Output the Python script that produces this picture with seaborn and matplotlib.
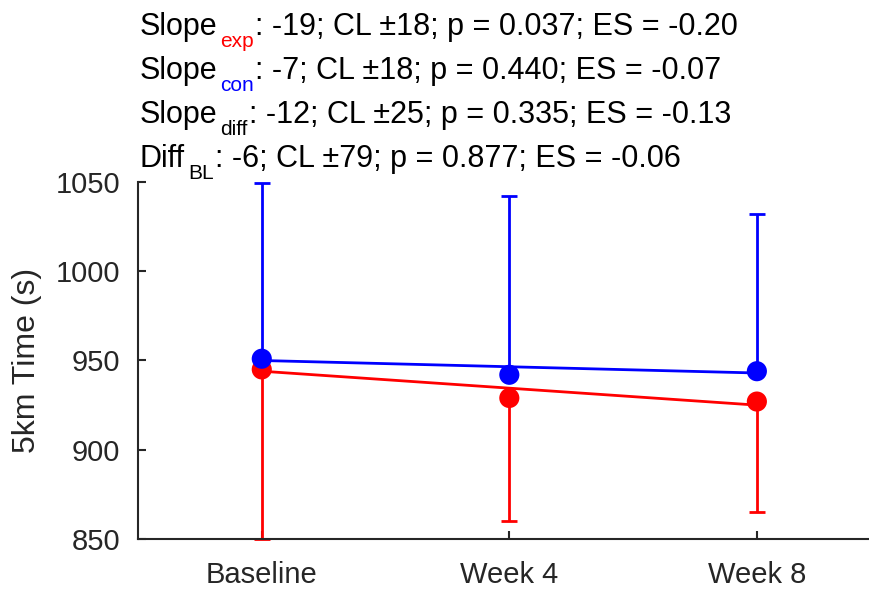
import matplotlib
matplotlib.use("Agg")
import matplotlib.pyplot as plt
import seaborn as sns
import pandas as pd
import numpy as np

# ---- data ----
weeks = ["Baseline", "Week 4", "Week 8"]
exp_mean = [945, 929, 927]
exp_lower = [850, 860, 865]
con_mean = [951, 942, 944]
con_upper = [1049.5, 1042, 1032]
fit_weeks = ["Baseline", "Week 8"]
exp_fit = [944, 925]
con_fit = [950, 943]
yticks = [850, 900, 950, 1000, 1050]

stats_lines = [
    ("Slope", "exp", "red", ": -19; CL \u00b118; p = 0.037; ES = -0.20"),
    ("Slope", "con", "blue", ": -7; CL \u00b118; p = 0.440; ES = -0.07"),
    ("Slope", "diff", "black", ": -12; CL \u00b125; p = 0.335; ES = -0.13"),
    ("Diff", "BL", "black", ": -6; CL \u00b179; p = 0.877; ES = -0.06"),
]

sns.set_style("ticks")
plt.rcParams['font.family'] = ['Liberation Sans', 'DejaVu Sans']

W, H = 870, 589
fig = plt.figure(figsize=(W / 100, H / 100), dpi=100)
ax = fig.add_axes([138 / W, 1 - 539 / H, (W - 138) / W, (539 - 182) / H])

pos = {w: i + 1 for i, w in enumerate(weeks)}
xs = [pos[w] for w in weeks]
fx = [pos[w] for w in fit_weeks]

RED = "#ff0000"
BLUE = "#0000ff"
LW = 2.0

# error bars (one-sided)
ax.errorbar(xs, exp_mean, yerr=[np.array(exp_mean) - np.array(exp_lower), np.zeros(3)],
            fmt="none", ecolor=RED, elinewidth=LW, capsize=6, capthick=LW, clip_on=False, zorder=2)
ax.errorbar(xs, con_mean, yerr=[np.zeros(3), np.array(con_upper) - np.array(con_mean)],
            fmt="none", ecolor=BLUE, elinewidth=LW, capsize=6, capthick=LW, clip_on=False, zorder=2)

# fit lines
fit_df = pd.DataFrame({"x": fx * 2, "y": exp_fit + con_fit,
                       "grp": ["exp"] * 2 + ["con"] * 2})
sns.lineplot(data=fit_df, x="x", y="y", hue="grp", palette={"exp": RED, "con": BLUE},
             linewidth=LW, legend=False, ax=ax, zorder=3)

# points
pt_df = pd.DataFrame({"x": xs * 2, "y": exp_mean + con_mean,
                      "grp": ["exp"] * 3 + ["con"] * 3})
sns.scatterplot(data=pt_df, x="x", y="y", hue="grp", palette={"exp": RED, "con": BLUE},
                s=210, edgecolor="none", legend=False, ax=ax, zorder=4, clip_on=False)

ax.set_xlim(0.5, 3.457)
ax.set_ylim(850, 1050)
ax.set_xticks(xs)
ax.set_xticklabels(weeks)
ax.set_yticks(yticks)
ax.set_xlabel("")
ax.set_ylabel("5km Time (s)", fontsize=23, color="#262626")
ax.yaxis.label.set_va("center")
ax.yaxis.set_label_coords((27 - 138) / (W - 138), 0.5)

ax.tick_params(direction="in", length=6, width=1.5, labelsize=21, colors="#262626",
               labelcolor="#262626")
ax.tick_params(axis="x", pad=16)
ax.tick_params(axis="y", pad=13)
for s in ["top", "right"]:
    ax.spines[s].set_visible(False)
for s in ["left", "bottom"]:
    ax.spines[s].set_linewidth(1.5)
    ax.spines[s].set_color("#262626")

# stats text lines with coloured subscripts
fig.canvas.draw()
r = fig.canvas.get_renderer()

def put(x, y, s, size, color):
    t = fig.text(x / W, 1 - y / H, s, fontsize=size, color=color, ha="left", va="baseline")
    bb = t.get_window_extent(renderer=r)
    return x + bb.width

baselines = [35, 79, 123, 167]
for (main, sub, col, rest), yb in zip(stats_lines, baselines):
    x = 140
    x = put(x, yb, main, 22, "black")
    x = put(x + 3, yb + 12, sub, 15, col)
    put(x + 1, yb, rest, 22, "black")

fig.savefig("out.png", dpi=100)
